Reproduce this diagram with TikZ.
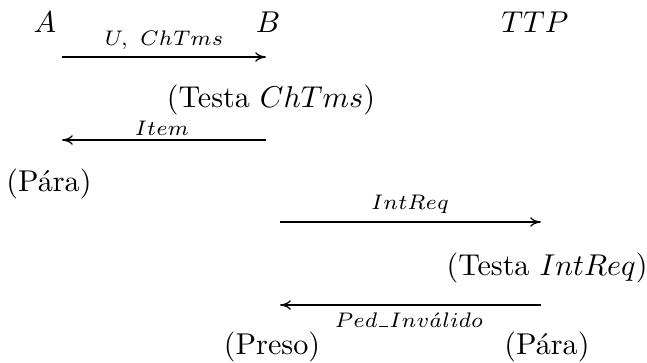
\documentclass[tikz,border=0pt]{standalone}
\usepackage{fontspec}
\usetikzlibrary{arrows.meta}
% short baseline underscore for message names
\newcommand{\usc}{\kern.06em\vbox{\hrule width .45em height .4pt}\kern.06em}
\begin{document}
\begin{tikzpicture}[x=0.332pt,y=-0.332pt,
  txt/.style={inner sep=0pt,anchor=center},
  lbl/.style={inner sep=0pt,anchor=center,font=\scriptsize},
  msg/.style={-{To[length=3.6pt,width=3.2pt]},line width=0.4pt}]
\useasboundingbox (0,0) rectangle (647,362);
% participants
\node[txt] (A) at (45,22) {$A$};
\node[txt] (B) at (268,22) {$B$};
\node[txt] (T) at (535,22) {$TTP$};
% message ends
\coordinate (m1s) at (62,57);   \coordinate (m1e) at (266,57);
\coordinate (m2s) at (266,140); \coordinate (m2e) at (62,140);
\coordinate (m3s) at (280,222); \coordinate (m3e) at (541,222);
\coordinate (m4s) at (541,305); \coordinate (m4e) at (280,305);
% messages
\draw[msg] (m1s) -- (m1e);
\node[lbl] (l1) at (164,40) {$U,\ ChTms$};
\node[txt] (s1) at (271,100) {(Testa $ChTms$)};
\draw[msg] (m2s) -- (m2e);
\node[lbl] (l2) at (162,128) {$Item$};
\node[txt] (s2) at (49,184) {(Pára)};
\draw[msg] (m3s) -- (m3e);
\node[lbl] (l3) at (410,204) {$IntReq$};
\node[txt] (s3) at (547,268) {(Testa $IntReq$)};
\draw[msg] (m4s) -- (m4e);
\node[lbl] (l4) at (409,320) {$Ped\usc Inv\acute{a}lido$};
\node[txt] (s4) at (272,347) {(Preso)};
\node[txt] (s5) at (547,347) {(Pára)};
\end{tikzpicture}
\end{document}
